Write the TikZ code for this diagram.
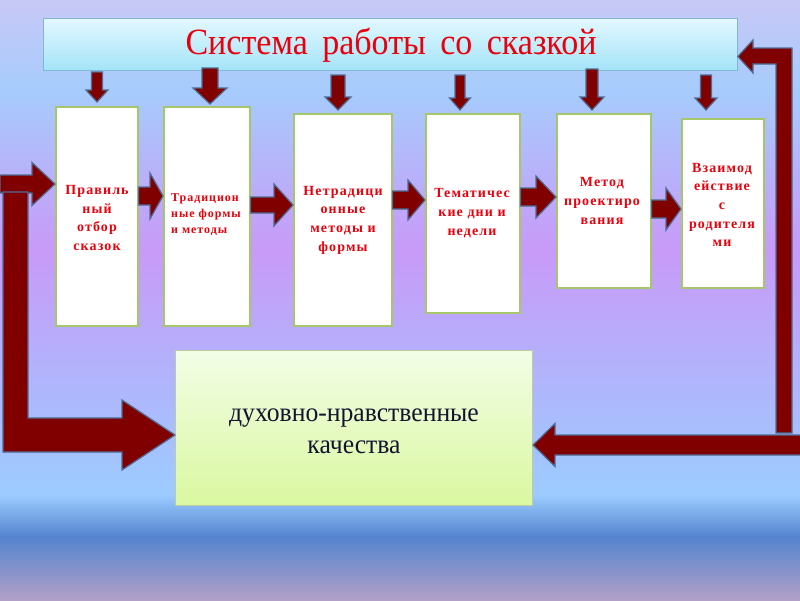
\documentclass[tikz,border=0pt]{standalone}
\usepackage{fontspec}
\setmainfont{Liberation Serif}
\newfontfamily\boxfont[LetterSpace=8]{Liberation Serif}
\usetikzlibrary{calc}

\definecolor{arrred}{RGB}{128,0,0}
\definecolor{arredge}{RGB}{78,108,150}
\definecolor{txtred}{RGB}{232,0,12}
\definecolor{boxedge}{RGB}{165,198,105}
\definecolor{bgA}{RGB}{200,200,246}
\definecolor{bgB}{RGB}{166,204,252}
\definecolor{bgC}{RGB}{200,154,248}
\definecolor{bgD}{RGB}{156,204,255}
\definecolor{bgE}{RGB}{84,132,206}
\definecolor{bgF}{RGB}{178,160,200}
\definecolor{titletop}{RGB}{226,248,255}
\definecolor{titlebot}{RGB}{164,228,248}
\definecolor{titleedge}{RGB}{128,184,208}
\definecolor{restop}{RGB}{242,253,230}
\definecolor{resbot}{RGB}{218,248,160}
\definecolor{resedge}{RGB}{190,205,160}
\definecolor{navy}{RGB}{20,20,50}

\tikzset{
  blk/.style={fill=arrred, draw=arredge, line width=1.2pt, line join=miter},
  wbox/.style={draw=boxedge, line width=1.5pt, fill=white, inner sep=0pt, anchor=north west},
  btxt/.style={text=txtred, align=center, inner sep=0pt,
    font=\boxfont\bfseries\fontsize{14}{18.7}\selectfont},
  stxt/.style={text=txtred, align=left, inner sep=0pt,
    font=\boxfont\bfseries\fontsize{12}{16.2}\selectfont},
}

% vertical block arrow pointing down: x, ytop, ytip, shaft half, head half, head length
\newcommand\vblk[6]{%
  \draw[blk] ({#1-#4},#2) -- ({#1-#4},{#3-#6}) -- ({#1-#5},{#3-#6}) -- (#1,#3)
    -- ({#1+#5},{#3-#6}) -- ({#1+#4},{#3-#6}) -- ({#1+#4},#2) -- cycle;}
% horizontal block arrow from anchor #1 to anchor #2 at height #3
\newcommand\hconn[6]{%
  \draw[blk] let \p1=(#1), \p2=(#2) in
    (\x1,{#3-#4}) -- ($(\x2,{#3-#4})+(-#6,0)$) -- ($(\x2,{#3-#5})+(-#6,0)$) -- (\x2,#3)
    -- ($(\x2,{#3+#5})+(-#6,0)$) -- ($(\x2,{#3+#4})+(-#6,0)$) -- (\x1,{#3+#4}) -- cycle;}

\begin{document}
\begin{tikzpicture}[x=1pt,y=-1pt]
\useasboundingbox (0,0) rectangle (800,600);
% background
\fill[top color=bgA, bottom color=bgB] (0,0) rectangle (800,90);
\fill[top color=bgB, bottom color=bgC] (0,89.5) rectangle (800,250);
\fill[top color=bgC, bottom color=bgD] (0,249.5) rectangle (800,495);
\fill[top color=bgD, bottom color=bgE] (0,494.5) rectangle (800,537);
\fill[top color=bgE, bottom color=bgF] (0,536.5) rectangle (800,600);

% title
\node[draw=titleedge, line width=0.8pt, top color=titletop, bottom color=titlebot,
  minimum width=694, minimum height=52, anchor=north west, inner sep=0pt] (title) at (43,18) {};
\node[text=txtred, font=\fontsize{37}{42}\selectfont, inner sep=0pt, xscale=0.92] (ttl) at (391,45)
  {Система\hspace{0.42em}работы\hspace{0.42em}со\hspace{0.42em}сказкой};

% boxes
\node[wbox, minimum width=82, minimum height=219] (b1) at (55,106) {};
\node[wbox, minimum width=86, minimum height=219] (b2) at (163,106) {};
\node[wbox, minimum width=98, minimum height=212] (b3) at (293,113) {};
\node[wbox, minimum width=94, minimum height=199] (b4) at (425,113) {};
\node[wbox, minimum width=94, minimum height=174] (b5) at (556,113) {};
\node[wbox, minimum width=82, minimum height=169] (b6) at (681,118) {};

\node[btxt] (t1) at (97,218) {Правиль\\ный\\отбор\\сказок};
\node[stxt, anchor=north west] (t2) at (171,193) {Традицион\\ные формы\\и методы};
\node[btxt] (t3) at (343,220) {Нетрадици\\онные\\методы и\\формы};
\node[btxt] (t4) at (472,213) {Тематичес\\кие дни и\\недели};
\node[btxt] (t5) at (602,201) {Метод\\проектиро\\вания};
\node[btxt] (t6) at (722,205) {Взаимод\\ействие\\с\\родителя\\ми};

% result box
\node[draw=resedge, line width=1pt, top color=restop, bottom color=resbot,
  minimum width=357, minimum height=155, anchor=north west, inner sep=0pt] (res) at (175,350) {};
\node[text=navy, align=center, inner sep=0pt, font=\fontsize{27}{32}\selectfont, xscale=0.95] (rt) at (354,431)
  {духовно-нравственные\\качества};

% down arrows from title
\vblk{97}{72}{102}{5.5}{11}{12}
\vblk{210}{68}{104}{8}{17}{16}
\vblk{338}{75}{110}{7}{13}{13}
\vblk{460}{75}{110}{5}{10.5}{12}
\vblk{592}{69}{110}{6}{12}{13}
\vblk{706}{75}{110}{5.5}{11}{12}

% arrows between boxes
\hconn{b1.east}{b2.west}{196}{9}{23}{13}
\hconn{b2.east}{b3.west}{205}{8}{21}{19}
\hconn{b3.east}{b4.west}{200}{9}{20}{17}
\hconn{b4.east}{b5.west}{197}{9}{21}{20}
\hconn{b5.east}{b6.west}{209}{9}{21}{15}

% left entry arrow and L arrow
\coordinate (lin) at (0,184);
\hconn{lin}{b1.west}{184}{9}{21.5}{23}
\draw[blk] (3,192) -- (28,192) -- (28,418) -- (122,418) -- (122,400) -- (res.west |- 0,435)
  -- (122,470) -- (122,452) -- (3,452) -- cycle;

% right feedback arrow
\draw[blk] (776,433) -- (776,64) -- (753,64) -- (753,73) -- (title.east |- 0,56.5) -- (753,40)
  -- (753,48) -- (792,48) -- (792,433) -- cycle;
\coordinate (rin) at (803,445);
\hconn{rin}{res.east}{445}{10}{21.5}{-22}
\end{tikzpicture}
\end{document}
